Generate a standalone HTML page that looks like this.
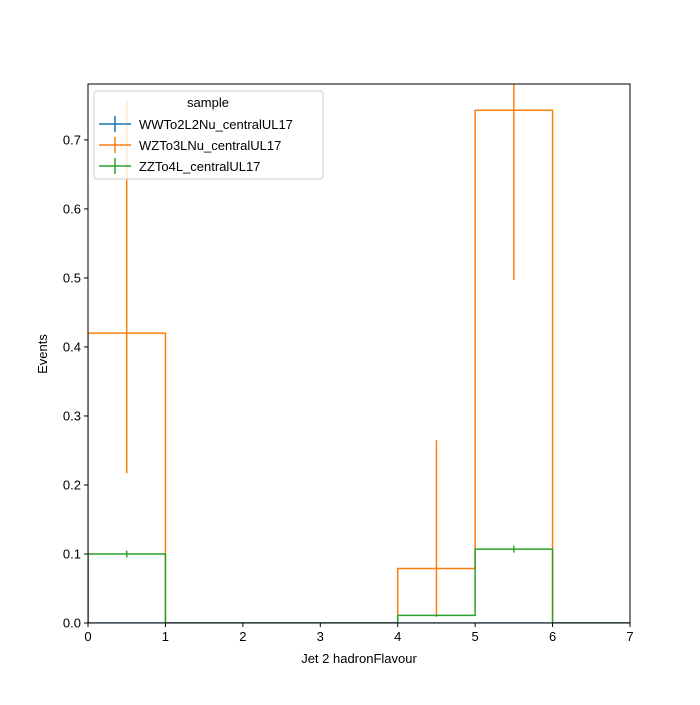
<!DOCTYPE html>
<html><head><meta charset="utf-8"><style>body{margin:0;background:#fff}svg{font-family:"Liberation Sans","DejaVu Sans",sans-serif}</style></head>
<body>
<svg id="chart" width="700" height="700" xmlns="http://www.w3.org/2000/svg">
<rect width="700" height="700" fill="#fff"/>
<g id="plot"></g>
<rect x="88" y="84" width="542" height="539" fill="none" stroke="#000" stroke-width="1"/>
<g id="axes"></g>
<text x="359" y="663" font-size="13" text-anchor="middle">Jet 2 hadronFlavour</text>
<text transform="translate(47,354) rotate(-90)" font-size="13" text-anchor="middle">Events</text>
<g>
<rect x="94" y="91" width="229" height="88" rx="3" fill="#fff" fill-opacity="0.8" stroke="#ccc"/>
<text x="208" y="107" font-size="13" text-anchor="middle">sample</text>
<g><line x1="99" x2="131" y1="124" y2="124" stroke="#1f77b4" stroke-width="1.5"/><line x1="115" x2="115" y1="116" y2="132" stroke="#1f77b4" stroke-width="1.5"/><text x="139" y="129" font-size="13">WWTo2L2Nu_centralUL17</text></g>
<g><line x1="99" x2="131" y1="145" y2="145" stroke="#ff7f0e" stroke-width="1.5"/><line x1="115" x2="115" y1="137" y2="153" stroke="#ff7f0e" stroke-width="1.5"/><text x="139" y="150" font-size="13">WZTo3LNu_centralUL17</text></g>
<g><line x1="99" x2="131" y1="166" y2="166" stroke="#2ca02c" stroke-width="1.5"/><line x1="115" x2="115" y1="158" y2="174" stroke="#2ca02c" stroke-width="1.5"/><text x="139" y="171" font-size="13">ZZTo4L_centralUL17</text></g>
</g>
</svg>
<script>
const binEdges=[0,1,2,3,4,5,6,7];
const wwValues=[0,0,0,0,0,0,0];
const wzValues=[0.42,0,0,0,0.079,0.743,0];
const wzErrLow=[0.203,0,0,0,0.066,0.246,0];
const wzErrHigh=[0.336,0,0,0,0.186,0.3,0];
const zzValues=[0.1,0,0,0,0.011,0.107,0];
const zzErrLow=[0.005,0,0,0,0.002,0.005,0];
const zzErrHigh=[0.005,0,0,0,0.002,0.005,0];
const xTicks=[0,1,2,3,4,5,6,7];
const yTicks=[0,0.1,0.2,0.3,0.4,0.5,0.6,0.7];
const X0=88,X1=630,Y0=623,Y1=84,XMAX=7,YMAX=0.781;
const sx=v=>X0+v/XMAX*(X1-X0);
const sy=v=>Y0-v/YMAX*(Y0-Y1);
const NS="http://www.w3.org/2000/svg";
const plot=document.getElementById('plot'),axes=document.getElementById('axes');
function mk(tag,attrs,parent){const e=document.createElementNS(NS,tag);for(const k in attrs)e.setAttribute(k,attrs[k]);parent.appendChild(e);return e;}
const clip=mk('clipPath',{id:'clp'},plot);mk('rect',{x:X0,y:Y1,width:X1-X0,height:Y0-Y1},clip);
plot.setAttribute('clip-path','url(#clp)');
function drawSeries(name,vals,lo,hi,color){
  let d='M'+sx(binEdges[0])+','+sy(0);
  vals.forEach((v,i)=>{d+=' L'+sx(binEdges[i])+','+sy(v)+' L'+sx(binEdges[i+1])+','+sy(v);});
  d+=' L'+sx(binEdges[vals.length])+','+sy(0);
  const p=mk('path',{d:d,fill:'none',stroke:color,'stroke-width':1.5},plot);
  
  
  if(lo) vals.forEach((v,i)=>{
    if(v<=0)return;
    const c=(binEdges[i]+binEdges[i+1])/2;
    const l=mk('line',{x1:sx(c),x2:sx(c),y1:sy(v-lo[i]),y2:sy(v+hi[i]),stroke:color,'stroke-width':1.5},plot);
    
    
  });
}
drawSeries('wz',wzValues,wzErrLow,wzErrHigh,'#ff7f0e');
drawSeries('zz',zzValues,zzErrLow,zzErrHigh,'#2ca02c');
drawSeries('ww',wwValues,null,null,'#1f77b4');
xTicks.forEach(t=>{
  mk('line',{x1:sx(t),x2:sx(t),y1:Y0,y2:Y0+4,stroke:'#000'},axes);
  const tx=mk('text',{x:sx(t),y:Y0+18,'font-size':13,'text-anchor':'middle'},axes);tx.textContent=t;
  
  
});
yTicks.forEach(t=>{
  mk('line',{x1:X0-4,x2:X0,y1:sy(t),y2:sy(t),stroke:'#000'},axes);
  const tx=mk('text',{x:X0-7,y:sy(t)+4.5,'font-size':13,'text-anchor':'end'},axes);tx.textContent=t.toFixed(1);
  
  
});
</script>
</body></html>
